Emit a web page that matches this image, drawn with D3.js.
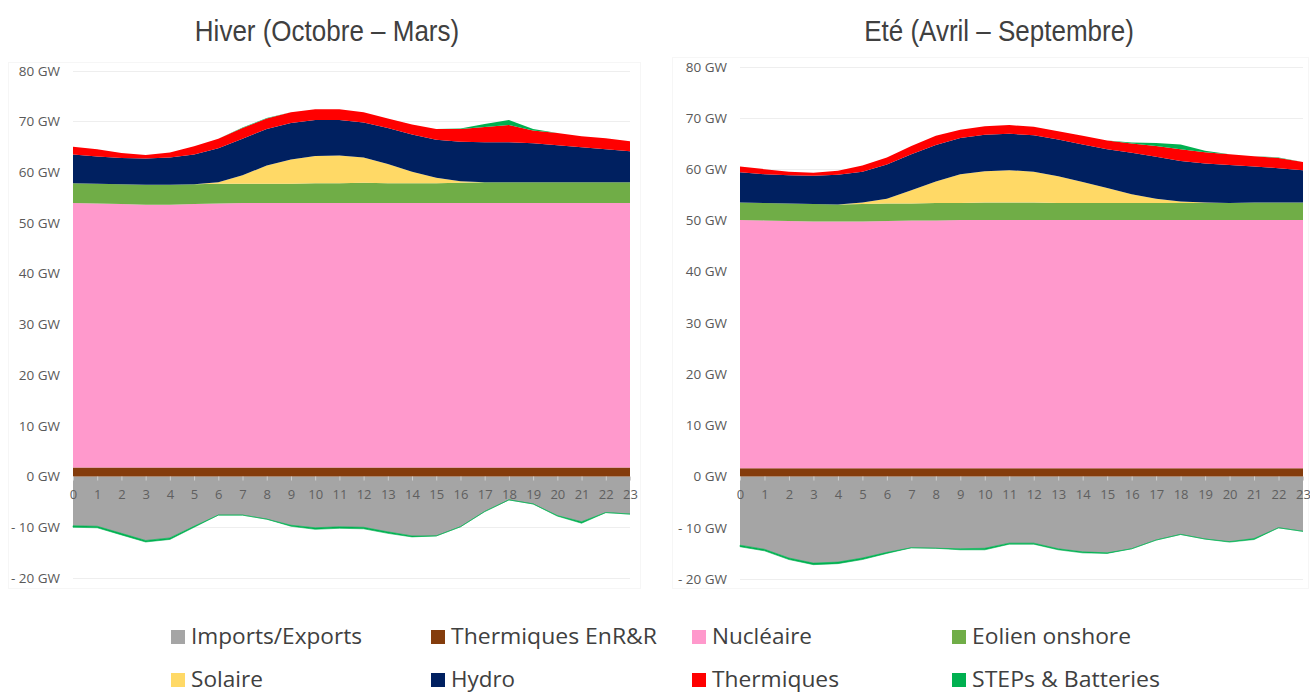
<!DOCTYPE html>
<html>
<head>
<meta charset="utf-8">
<script src="https://cdn.jsdelivr.net/npm/d3@7"></script>
<style>
	body { margin: 0; background: #fff; }
	svg { display: block; }
</style>
</head>
<body>
<div id="chart"></div>
<script>
	// ---- data (GW, hour of day) ----
	const hours = [0,1,2,3,4,5,6,7,8,9,10,11,12,13,14,15,16,17,18,19,20,21,22,23];
	const yTicks = [-20,-10,0,10,20,30,40,50,60,70,80];

	// Hiver (Octobre - Mars)
	const importsW    = [-9.7,-9.8,-11.2,-12.6,-12.1,-9.8,-7.6,-7.6,-8.4,-9.6,-10.1,-9.9,-10.0,-10.9,-11.7,-11.7,-9.9,-6.9,-4.6,-5.4,-7.7,-8.9,-7.1,-7.4];
	const thermEnrW   = [1.8,1.8,1.8,1.8,1.8,1.8,1.8,1.8,1.8,1.8,1.8,1.8,1.8,1.8,1.8,1.8,1.8,1.8,1.8,1.8,1.8,1.8,1.8,1.8];
	const nucleaireW  = [52.1,52.0,51.9,51.8,51.8,51.9,52.0,52.1,52.1,52.1,52.1,52.1,52.1,52.1,52.1,52.1,52.1,52.1,52.1,52.1,52.1,52.1,52.1,52.1];
	const eolienW     = [3.9,3.9,3.9,3.9,3.9,3.9,3.9,3.8,3.8,3.8,3.9,3.9,4.0,3.9,3.9,3.9,4.0,4.1,4.1,4.1,4.1,4.1,4.1,4.1];
	const solaireW    = [0,0,0,0,0,0,0.3,1.7,3.6,4.8,5.4,5.5,5.0,3.8,2.3,1.1,0.3,0,0,0,0,0,0,0];
	const hydroW      = [5.7,5.4,5.2,5.2,5.4,5.9,6.7,7.2,7.2,7.2,7.1,7.0,6.9,7.1,7.3,7.5,7.8,7.9,7.9,7.7,7.3,6.9,6.5,6.1];
	const thermiquesW = [1.5,1.4,1.0,0.7,1.0,1.6,1.9,2.1,2.1,2.1,2.1,2.1,2.0,1.9,2.0,2.1,2.5,3.0,3.4,2.5,2.4,2.2,2.2,2.0];
	const stepsW      = [-0.3,-0.3,-0.3,-0.3,-0.3,-0.2,0,0.1,0.1,-0.2,-0.3,-0.3,-0.3,-0.3,-0.2,0,0.1,0.6,1.0,0.3,-0.1,-0.3,0,0];

	// Eté (Avril - Septembre)
	const importsS    = [-13.4,-14.2,-15.9,-16.9,-16.7,-15.9,-14.8,-13.9,-14.0,-14.1,-14.0,-13.0,-13.0,-14.1,-14.7,-14.9,-14.1,-12.4,-11.3,-12.2,-12.7,-12.1,-10.0,-10.7];
	const thermEnrS   = [1.6,1.6,1.6,1.6,1.6,1.6,1.6,1.6,1.6,1.6,1.6,1.6,1.6,1.6,1.6,1.6,1.6,1.6,1.6,1.6,1.6,1.6,1.6,1.6];
	const nucleaireS  = [48.5,48.4,48.3,48.2,48.2,48.2,48.3,48.4,48.4,48.5,48.5,48.5,48.5,48.5,48.5,48.5,48.5,48.5,48.5,48.5,48.5,48.5,48.5,48.5];
	const eolienS     = [3.4,3.4,3.4,3.4,3.3,3.4,3.4,3.3,3.4,3.3,3.4,3.4,3.4,3.3,3.3,3.3,3.3,3.3,3.3,3.3,3.3,3.4,3.4,3.4];
	const solaireS    = [0,0,0,0,0,0.3,0.9,2.6,4.2,5.6,6.1,6.3,6.0,5.2,4.1,2.9,1.7,0.8,0.3,0.1,0,0,0,0];
	const hydroS      = [5.9,5.6,5.5,5.5,5.8,6.0,6.7,7.0,7.1,7.1,7.1,7.1,7.1,7.2,7.3,7.6,8.1,8.2,7.9,7.6,7.4,7.0,6.7,6.3];
	const thermiquesS = [1.1,1.0,0.7,0.6,0.8,1.2,1.4,1.6,1.8,1.6,1.7,1.7,1.7,1.6,1.7,1.7,1.8,2.1,2.3,2.2,2.1,2.0,2.0,1.6];
	const stepsS      = [-0.3,-0.3,-0.3,-0.3,-0.3,-0.3,-0.2,0,0,-0.2,-0.3,-0.2,-0.2,-0.2,-0.2,-0.1,0.2,0.6,0.9,0.3,-0.1,-0.2,0.1,0];

	const seriesKeys  = ["imports","thermEnr","nucleaire","eolien","solaire","hydro","thermiques","steps"];
	const seriesNames = ["Imports/Exports","Thermiques EnR&R","Nucléaire","Eolien onshore","Solaire","Hydro","Thermiques","STEPs & Batteries"];

	// ---- style ----
	const colors = {
		imports: "#a5a5a5", thermEnr: "#843c0c", nucleaire: "#ff99cc", eolien: "#70ad47",
		solaire: "#ffd966", hydro: "#002060", thermiques: "#ff0000", steps: "#00b050",
		stepsPos: "#00b050", stepsNeg: "#00b050"
	};

	const W = 1310, H = 693;
	const svg = d3.select("#chart").append("svg").attr("width", W).attr("height", H);

	function makeRows(d){
		return hours.map((h, i) => ({
			hour: h,
			imports: d.imports[i],
			thermEnr: d.thermEnr[i],
			nucleaire: d.nucleaire[i],
			eolien: d.eolien[i],
			solaire: d.solaire[i],
			hydro: d.hydro[i],
			thermiques: d.thermiques[i],
			stepsPos: Math.max(0, d.steps[i]),
			stepsNeg: Math.min(0, d.steps[i]),
		}));
	}

	function drawPanel(cfg, d){
		let g = svg.append("g");

		// faint chart-area border
		g.append("rect")
			.attr("x", cfg.box[0] + 0.5).attr("y", cfg.box[1] + 0.5)
			.attr("width", cfg.box[2]).attr("height", cfg.box[3])
			.attr("fill", "none").attr("stroke", "#f6f6f6");

		let x = d3.scaleLinear().domain([0, 23]).range([cfg.x0, cfg.x1]);
		let y = d3.scaleLinear().domain([-20, 80]).range([cfg.yBottom, cfg.yTop]);

		// gridlines
		g.append("g").selectAll("line")
			.data(yTicks)
			.join("line")
			.attr("x1", cfg.x0).attr("x2", cfg.x1)
			.attr("y1", v => Math.round(y(v)) + 0.5).attr("y2", v => Math.round(y(v)) + 0.5)
			.attr("stroke", "#eeeeee");

		let rows = makeRows(d);
		let pos = d3.stack().keys(["thermEnr","nucleaire","eolien","solaire","hydro","thermiques","stepsPos"])(rows);
		let neg = d3.stack().keys(["imports","stepsNeg"])(rows);

		let area = d3.area()
			.x(p => x(p.data.hour))
			.y0(p => y(p[0]))
			.y1(p => y(p[1]));

		g.append("g").selectAll("path")
			.data(neg.concat(pos))
			.join("path")
			.attr("d", area)
			.attr("fill", s => colors[s.key])
			.attr("stroke", s => s.key === "stepsNeg" ? colors.steps : "none")
			.attr("stroke-width", s => s.key === "stepsNeg" ? 0.6 : 0);

		// y axis labels
		let yAxis = g.append("g")
			.attr("transform", `translate(${cfg.x0},0)`)
			.call(d3.axisLeft(y).tickValues(yTicks).tickSize(0).tickPadding(13)
				.tickFormat(v => v < 0 ? `- ${-v} GW` : `${v} GW`));
		yAxis.select(".domain").remove();
		yAxis.selectAll("text")
			.attr("fill", "#595959")
			.style("font-family", "'Open Sans', sans-serif")
			.style("font-size", "13.5px");

		// x axis at 0
		let xAxis = g.append("g")
			.attr("transform", `translate(0,${y(0)})`)
			.call(d3.axisBottom(x).tickValues(hours).tickSize(4).tickPadding(9));
		xAxis.select(".domain").remove();
		xAxis.selectAll("line").attr("stroke", "#d0d0d0");
		xAxis.selectAll("text")
			.attr("fill", "#5f5f5f")
			.style("font-family", "'Open Sans', sans-serif")
			.style("font-size", "13px");

		// title
		svg.append("text")
			.attr("transform", `translate(${cfg.titleX},41) scale(1,1.1)`)
			.attr("text-anchor", "middle")
			.attr("fill", "#404040")
			.style("font-family", "'Liberation Sans', Arial, sans-serif")
			.style("font-size", "26px")
			.text(cfg.title);
	}

	drawPanel({
		title: "Hiver (Octobre – Mars)", titleX: 327,
		x0: 73, x1: 630, yTop: 70.7, yBottom: 578,
		box: [8, 62, 632, 526]
	}, {
		imports: importsW, thermEnr: thermEnrW, nucleaire: nucleaireW, eolien: eolienW,
		solaire: solaireW, hydro: hydroW, thermiques: thermiquesW, steps: stepsW
	});

	drawPanel({
		title: "Eté (Avril – Septembre)", titleX: 999,
		x0: 740, x1: 1303, yTop: 66.7, yBottom: 579,
		box: [672, 57, 636, 531]
	}, {
		imports: importsS, thermEnr: thermEnrS, nucleaire: nucleaireS, eolien: eolienS,
		solaire: solaireS, hydro: hydroS, thermiques: thermiquesS, steps: stepsS
	});

	// ---- legend: 2 rows x 4 columns ----
	const legendCols = [171, 431, 692, 952];
	const legendRowsY = [644, 687];
	const legendWidths = [171, 206, 100, 159, 72, 64, 127, 188];

	let legend = svg.append("g");
	seriesKeys.forEach((k, i) => {
		let cx = legendCols[i % 4];
		let by = legendRowsY[Math.floor(i / 4)];
		legend.append("rect")
			.attr("x", cx).attr("y", by - 14)
			.attr("width", 14).attr("height", 14)
			.attr("fill", colors[k]);
		legend.append("text")
			.attr("transform", `translate(${cx + 20},${by}) scale(1,1.08)`)
			.attr("fill", "#404040")
			.attr("textLength", legendWidths[i])
			.attr("lengthAdjust", "spacingAndGlyphs")
			.style("font-family", "'Open Sans', sans-serif")
			.style("font-size", "21px")
			.text(seriesNames[i]);
	});
</script>
</body>
</html>
